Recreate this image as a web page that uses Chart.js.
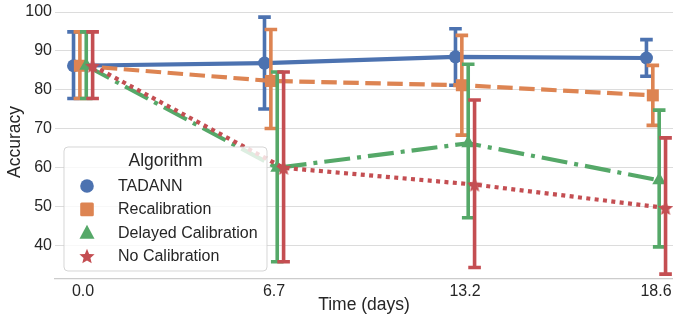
<!DOCTYPE html>
<html>
<head>
<meta charset="utf-8">
<script src="https://cdn.jsdelivr.net/npm/chart.js@4/dist/chart.umd.min.js"></script>
<style>
  html, body { margin: 0; padding: 0; background: #fff; }
  #wrap { width: 673px; height: 322px; }
</style>
</head>
<body>
<div id="wrap"><canvas id="grafico" width="673" height="322"></canvas></div>
<script>
// datos
const dias = ['0.0', '6.7', '13.2', '18.6'];
const yTicks = [40, 50, 60, 70, 80, 90, 100];

const tadann = [86.2, 86.9, 88.5, 88.2];
const tadannBajo = [77.8, 75.1, 81.2, 83.5];
const tadannAlto = [94.9, 98.7, 95.7, 92.9];

const recal = [86.2, 82.3, 81.2, 78.6];
const recalBajo = [77.8, 70.1, 68.4, 70.9];
const recalAlto = [94.9, 95.5, 94.0, 86.3];

const retrasada = [86.2, 60.0, 66.3, 56.8];
const retrasadaBajo = [77.8, 35.9, 47.2, 39.7];
const retrasadaAlto = [94.9, 84.6, 86.6, 74.8];

const sinCal = [86.2, 60.0, 55.7, 49.7];
const sinCalBajo = [77.8, 35.9, 34.4, 32.7];
const sinCalAlto = [94.9, 84.6, 77.4, 67.7];

const FUENTE = "'Liberation Sans', Arial, sans-serif";
const TEXTO = '#262626';

// estrella rellena (la de Chart.js es solo trazo)
const dibujarEstrella = (c, x, y, r, color) => {
    c.beginPath();
    for (let i = 0; i < 10; i++) {
        const rad = i % 2 === 0 ? r : r * 0.45;
        const a = -Math.PI / 2 + i * Math.PI / 5;
        const px = x + Math.cos(a) * rad;
        const py = y + Math.sin(a) * rad;
        if (i === 0) c.moveTo(px, py); else c.lineTo(px, py);
    }
    c.closePath();
    c.fillStyle = color;
    c.fill();
};

const estrella = document.createElement('canvas');
estrella.width = 16;
estrella.height = 16;
dibujarEstrella(estrella.getContext('2d'), 8, 8.6, 8, '#c44e52');

const esquivar = 0.1;
const puntos = (valores, k) => valores.map((v, i) => ({x: i - esquivar / 2 + k * esquivar / 3, y: v}));

const series = [
    {label: 'TADANN', data: puntos(tadann, 0), bajo: tadannBajo, alto: tadannAlto,
     color: '#4c72b0', dash: [], estilo: 'circle', radio: 6.5, order: 3},
    {label: 'Recalibration', data: puntos(recal, 1), bajo: recalBajo, alto: recalAlto,
     color: '#dd8452', dash: [15.5, 6.5], estilo: 'rect', radio: 8.5, order: 2},
    {label: 'Delayed Calibration', data: puntos(retrasada, 2), bajo: retrasadaBajo, alto: retrasadaAlto,
     color: '#55a868', dash: [26, 7, 4, 7], estilo: 'triangle', radio: 8, order: 1},
    {label: 'No Calibration', data: puntos(sinCal, 3), bajo: sinCalBajo, alto: sinCalAlto,
     color: '#c44e52', dash: [4, 4.4], estilo: estrella, radio: 8, order: 0},
];

// barras de error antes de cada serie
const barrasError = {
    id: 'barrasError',
    beforeDatasetDraw(chart, args) {
        const ds = chart.data.datasets[args.index];
        const meta = args.meta;
        const c = chart.ctx;
        const ys = chart.scales.y;
        c.save();
        c.strokeStyle = ds.borderColor;
        c.lineWidth = 3.6;
        c.lineCap = 'butt';
        meta.data.forEach((p, i) => {
            const x = p.x;
            const y1 = ys.getPixelForValue(ds.alto[i]);
            const y2 = ys.getPixelForValue(ds.bajo[i]);
            c.beginPath();
            c.moveTo(x, y1); c.lineTo(x, y2);
            c.moveTo(x - 6.3, y1); c.lineTo(x + 6.3, y1);
            c.moveTo(x - 6.3, y2); c.lineTo(x + 6.3, y2);
            c.stroke();
        });
        c.restore();
    }
};

// leyenda dentro del area
const leyenda = {
    id: 'leyenda',
    afterDraw(chart) {
        const c = chart.ctx;
        const area = chart.chartArea;
        const x0 = area.left + 9, y0 = 147, w = 203, h = 124;
        c.save();
        c.beginPath();
        c.roundRect(x0, y0, w, h, 4);
        c.fillStyle = 'rgba(255,255,255,0.8)';
        c.fill();
        c.strokeStyle = 'rgba(204,204,204,0.8)';
        c.lineWidth = 1;
        c.stroke();

        c.fillStyle = TEXTO;
        c.textBaseline = 'middle';
        c.textAlign = 'center';
        c.font = `17.5px ${FUENTE}`;
        c.fillText('Algorithm', x0 + w / 2, 161);

        c.textAlign = 'left';
        c.font = `16px ${FUENTE}`;
        series.forEach((s, i) => {
            const y = 186 + i * 23.4;
            const mx = 87;
            c.fillStyle = s.color;
            c.beginPath();
            if (i === 0) {
                c.arc(mx, y, 6.8, 0, Math.PI * 2);
                c.fill();
            } else if (i === 1) {
                c.roundRect(mx - 6.8, y - 6.8, 13.6, 13.6, 1.5);
                c.fill();
            } else if (i === 2) {
                c.moveTo(mx, y - 8);
                c.lineTo(mx + 7.5, y + 6);
                c.lineTo(mx - 7.5, y + 6);
                c.closePath();
                c.fill();
            } else {
                dibujarEstrella(c, mx, y + 0.6, 8, s.color);
            }
            c.fillStyle = TEXTO;
            c.fillText(s.label, 118, y + 0.5);
        });
        c.restore();
    }
};

const ctx = document.getElementById('grafico');

new Chart(ctx, {
    type: 'scatter',
    data: {
        datasets: series.map(s => ({
            label: s.label,
            data: s.data,
            bajo: s.bajo,
            alto: s.alto,
            showLine: true,
            borderColor: s.color,
            backgroundColor: s.color,
            borderWidth: 4.2,
            borderDash: s.dash,
            pointStyle: s.estilo,
            pointRadius: s.radio,
            pointBackgroundColor: s.color,
            pointBorderWidth: 0,
            order: s.order,
        }))
    },
    options: {
        responsive: false,
        animation: false,
        layout: {autoPadding: false, padding: {top: 5, right: 0, left: 0, bottom: 0}},
        plugins: {
            legend: {display: false},
            tooltip: {enabled: false},
        },
        scales: {
            x: {
                type: 'linear',
                min: -0.147,
                max: 3.089,
                afterBuildTicks: s => { s.ticks = dias.map((d, i) => ({value: i})); },
                afterFit: s => {
                    s.height = 43;
                    s.paddingLeft = 0;
                    s.paddingRight = 0;
                },
                grid: {display: false, drawTicks: false},
                border: {display: true, color: '#cccccc', width: 1.3},
                ticks: {
                    callback: v => dias[v],
                    color: TEXTO,
                    font: {family: FUENTE, size: 16},
                    padding: 3,
                    maxRotation: 0,
                },
                title: {
                    display: true,
                    text: 'Time (days)',
                    color: TEXTO,
                    font: {family: FUENTE, size: 17.5},
                    padding: {top: 0, bottom: 6},
                },
            },
            y: {
                min: 31.46,
                max: 101.8,
                afterBuildTicks: s => { s.ticks = yTicks.map(v => ({value: v})); },
                afterFit: s => {
                    s.width = 55;
                    s.paddingTop = 0;
                    s.paddingBottom = 0;
                },
                grid: {color: '#dcdcdc', lineWidth: 1, drawTicks: false},
                border: {display: false},
                ticks: {
                    color: TEXTO,
                    font: {family: FUENTE, size: 16},
                    padding: 3,
                },
                title: {
                    display: true,
                    text: 'Accuracy',
                    color: TEXTO,
                    font: {family: FUENTE, size: 17.5},
                    padding: {top: 5, bottom: 0},
                },
            },
        },
    },
    plugins: [barrasError, leyenda],
});
</script>
</body>
</html>
